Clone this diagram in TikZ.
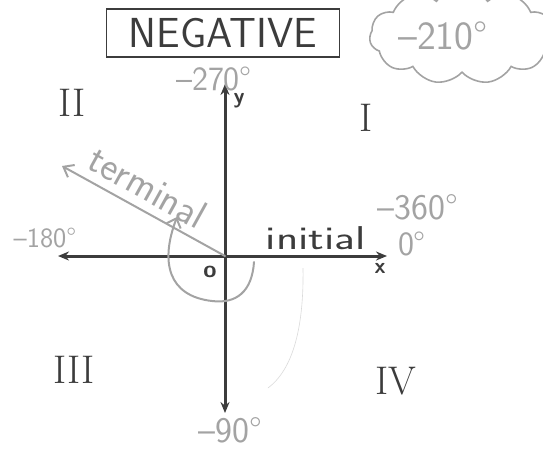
\documentclass[tikz,border=0pt]{standalone}
\usepackage{fontspec}
\usetikzlibrary{shapes.symbols,arrows.meta}
\definecolor{ink}{HTML}{3C3C3C}
\definecolor{pencil}{HTML}{A3A3A3}
\tikzset{
  axisline/.style={draw=ink,line width=3pt,{Stealth[length=11pt,width=9pt]}-{Stealth[length=11pt,width=9pt]}},
  glabel/.style={text=pencil,font=\sffamily\fontsize{32}{32}\selectfont,inner sep=0pt},
  quad/.style={text=ink,font=\fontsize{40}{40}\selectfont,inner sep=0pt},
  axname/.style={text=ink,font=\sffamily\bfseries\fontsize{22}{22}\selectfont,inner sep=0pt},
  gline/.style={draw=pencil,line width=2pt,line cap=round,line join=round}
}
\begin{document}
\begin{tikzpicture}[x=1pt,y=-1pt]
\useasboundingbox (0,0) rectangle (543,451);
% title box
\node[draw=ink,line width=1.8pt,minimum width=233pt,minimum height=48pt,inner sep=0pt,
      text=ink,font=\sffamily\fontsize{42}{42}\selectfont] (title) at (223,33) {NEGATIVE};
% cloud
\node[cloud,cloud puffs=11,cloud puff arc=110,aspect=2.2,draw=pencil,line width=1.6pt,
      minimum width=185pt,minimum height=96pt,inner sep=0pt] (cloud) at (462,36) {};
\node[glabel,font=\sffamily\fontsize{40}{40}\selectfont] (c210) at (443,36) {–210°};
% axes
\coordinate (O) at (225,256);
\coordinate (xl) at (58,256);
\coordinate (xr) at (387,256);
\coordinate (yt) at (225,84);
\coordinate (yb) at (225,413);
\draw[axisline] (xl) -- (xr);
\draw[axisline] (yb) -- (yt);
\node[axname] (ylab) at (239,101) {y};
\node[axname] (xlab) at (380,268) {x};
\node[axname,font=\sffamily\bfseries\fontsize{24}{24}\selectfont] (olab) at (210,272) {o};
% quadrants
\node[quad] (q2) at (72,103) {II};
\node[quad] (q1) at (366,118) {I};
\node[quad] (q3) at (74,370) {III};
\node[quad] (q4) at (396,381) {IV};
% angle labels
\node[glabel,font=\sffamily\fontsize{34}{34}\selectfont] (l270) at (214,79) {–270°};
\node[glabel,font=\sffamily\fontsize{28}{28}\selectfont] (l180) at (45,238) {–180°};
\node[glabel,font=\sffamily\fontsize{36}{36}\selectfont] (l360) at (418,207) {–360°};
\node[glabel,font=\sffamily\fontsize{34}{34}\selectfont] (l0) at (412,244) {0°};
\node[glabel,font=\sffamily\fontsize{36}{36}\selectfont] (l90) at (230,430) {–90°};
% initial
\node[text=ink,font=\sffamily\fontsize{33}{33}\selectfont,inner sep=0pt,xscale=1.4] (init) at (316,238) {initial};
% terminal ray
\coordinate (T) at (62,166);
\draw[gline,-{Straight Barb[length=9pt,width=14pt]}] (O) -- (T);
\node[text=pencil,font=\sffamily\fontsize{40}{40}\selectfont,inner sep=0pt,rotate=-29] (term) at (148,187) {terminal};
% rotation arc
\coordinate (a0) at (254,262);
\coordinate (a1) at (177,217);
\draw[gline,-{Straight Barb[length=8pt,width=15pt]}] (a0) .. controls (252,292) and (236,304) .. (212,301)
  .. controls (168,296) and (160,262) .. (a1);
% faint stroke
\draw[draw=pencil!40,line width=0.6pt] (303,268) .. controls (304,330) and (292,370) .. (268,388);
\end{tikzpicture}
\end{document}
